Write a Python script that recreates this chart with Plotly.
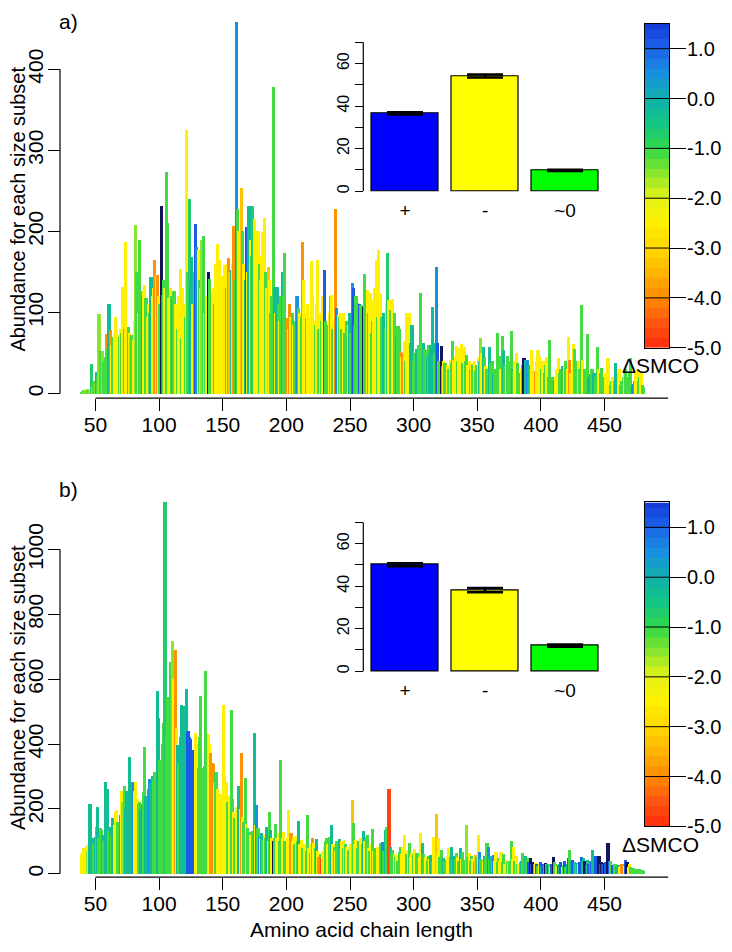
import plotly.graph_objects as go

# ---------------- data ----------------
# Delta-SMCO colour classes
Y, YG, LG, G, GT, T, B, D, N, O, OY, R = -2.5, -1.9, -1.5, -1.1, -0.7, -0.3, 0.5, 1.1, 1.9, -3.9, -3.3, -4.7

chain_length = list(range(39, 482))

abund_a = [
    2, 3, 4, 5, 3, 6, 4, 5, 37, 8,
    15, 12, 27, 20, 98, 53, 50, 53, 40, 45,
    74, 55, 110, 79, 60, 70, 75, 94, 78, 72,
    70, 80, 75, 132, 80, 187, 78, 82, 75, 70,
    72, 66, 90, 208, 150, 100, 189, 126, 120, 126,
    134, 118, 95, 110, 100, 144, 120, 130, 165, 146,
    146, 120, 110, 232, 122, 140, 130, 274, 211, 118,
    130, 120, 116, 126, 110, 95, 80, 120, 154, 69,
    130, 110, 95, 325, 150, 240, 135, 169, 110, 150,
    209, 181, 177, 140, 130, 190, 195, 100, 110, 120,
    150, 142, 120, 125, 130, 110, 160, 185, 150, 165,
    120, 145, 135, 159, 130, 160, 167, 150, 152, 160,
    207, 140, 458, 228, 200, 180, 254, 201, 160, 140,
    205, 150, 232, 190, 170, 232, 215, 170, 150, 200,
    160, 140, 170, 199, 217, 150, 130, 156, 140, 100,
    120, 378, 132, 100, 132, 110, 90, 120, 150, 120,
    173, 85, 93, 80, 110, 95, 100, 85, 90, 120,
    120, 105, 100, 95, 187, 140, 100, 93, 110, 80,
    95, 163, 120, 90, 85, 110, 165, 80, 100, 90,
    120, 152, 90, 85, 75, 100, 120, 122, 80, 90,
    228, 106, 97, 95, 99, 80, 100, 75, 70, 90,
    85, 100, 75, 136, 130, 85, 120, 112, 85, 110,
    109, 100, 107, 148, 120, 128, 100, 124, 75, 90,
    115, 130, 165, 95, 177, 124, 95, 90, 100, 80,
    110, 173, 115, 103, 85, 117, 100, 75, 70, 83,
    80, 51, 45, 50, 65, 40, 99, 70, 100, 63,
    85, 40, 50, 45, 55, 60, 50, 124, 42, 63,
    55, 54, 45, 60, 50, 60, 107, 63, 50, 156,
    63, 40, 35, 59, 34, 40, 38, 32, 35, 30,
    42, 38, 65, 42, 45, 59, 40, 56, 45, 61,
    38, 58, 40, 48, 35, 40, 30, 38, 35, 40,
    28, 35, 45, 40, 69, 50, 57, 45, 34, 30,
    28, 57, 38, 40, 26, 30, 28, 75, 35, 46,
    30, 71, 54, 35, 34, 46, 40, 30, 77, 30,
    28, 40, 50, 38, 20, 25, 30, 35, 44, 42,
    30, 42, 35, 30, 54, 40, 25, 28, 40, 54,
    45, 36, 30, 40, 25, 35, 45, 20, 66, 14,
    20, 14, 16, 20, 30, 44, 25, 30, 34, 28,
    35, 40, 30, 70, 42, 25, 30, 61, 55, 40,
    25, 40, 30, 109, 42, 25, 30, 20, 73, 20,
    24, 30, 30, 25, 20, 15, 57, 30, 25, 32,
    20, 15, 25, 20, 44, 12, 10, 15, 20, 16,
    38, 20, 25, 30, 10, 15, 20, 25, 30, 15,
    20, 25, 44, 10, 12, 15, 25, 30, 15, 20,
    25, 10, 8]

smco_a = [
    G, LG, G, LG, G, LG, G, LG, GT, LG,
    G, LG, T, G, LG, G, G, LG, G, G,
    O, G, T, O, Y, G, Y, Y, Y, Y,
    G, Y, G, Y, G, Y, Y, G, Y, LG,
    G, Y, Y, LG, G, Y, G, G, T, Y,
    Y, G, Y, Y, G, T, Y, Y, O, Y,
    O, Y, G, N, R, G, Y, G, G, Y,
    Y, G, T, G, Y, Y, G, Y, Y, G,
    Y, Y, G, Y, G, GT, T, T, Y, G,
    D, B, Y, G, Y, LG, G, Y, G, Y,
    N, G, G, Y, Y, G, Y, Y, Y, Y,
    Y, Y, Y, Y, G, Y, O, OY, T, Y,
    O, G, B, G, Y, Y, OY, G, Y, T,
    D, Y, T, Y, G, GT, Y, Y, Y, Y,
    G, Y, Y, Y, Y, G, Y, OY, Y, G,
    G, G, T, Y, T, G, Y, G, T, G,
    G, G, O, Y, O, Y, G, Y, G, T,
    B, G, Y, G, O, Y, Y, O, Y, Y,
    Y, Y, Y, Y, G, Y, Y, G, Y, G,
    Y, D, G, G, G, Y, O, Y, G, Y,
    O, B, Y, G, Y, G, Y, G, G, G,
    Y, T, G, B, D, T, G, G, G, D,
    G, G, N, G, G, Y, G, Y, G, G,
    Y, Y, Y, G, Y, Y, G, G, T, G,
    Y, GT, Y, G, G, Y, G, G, T, G,
    G, O, Y, O, Y, G, Y, Y, Y, T,
    T, G, G, G, T, G, G, G, G, T,
    G, G, T, G, T, T, T, T, G, B,
    D, G, G, N, G, Y, G, G, Y, G,
    Y, G, G, Y, Y, Y, G, Y, Y, Y,
    G, Y, G, G, Y, Y, G, Y, G, Y,
    G, G, Y, T, LG, Y, T, G, Y, G,
    G, T, G, G, T, G, G, G, G, G,
    Y, G, T, G, Y, G, G, G, G, T,
    G, Y, Y, G, G, G, Y, G, N, T,
    T, B, T, G, Y, Y, Y, O, Y, Y,
    Y, Y, G, Y, G, G, Y, G, G, G,
    G, G, T, Y, Y, Y, G, G, T, G,
    Y, G, Y, Y, O, Y, Y, Y, G, G,
    G, Y, G, G, Y, Y, G, G, G, T,
    T, G, G, T, G, G, G, Y, G, G,
    G, G, Y, Y, Y, Y, G, G, Y, O,
    T, T, Y, Y, G, G, G, Y, G, G,
    G, G, G, B, B, T, Y, Y, G, G,
    Y, G, G]

abund_b = [
    60, 70, 80, 75, 85, 70, 90, 215, 100, 109,
    90, 114, 144, 205, 110, 140, 134, 120, 100, 281,
    180, 261, 130, 144, 120, 170, 150, 190, 195, 160,
    122, 180, 256, 220, 271, 200, 256, 220, 360, 282,
    250, 282, 256, 282, 230, 215, 220, 200, 215, 250,
    390, 240, 230, 260, 292, 280, 302, 290, 312, 300,
    563, 480, 350, 322, 400, 464, 1145, 420, 546, 500,
    654, 560, 718, 600, 688, 450, 398, 340, 420, 520,
    480, 517, 450, 569, 439, 420, 414, 373, 380, 368,
    434, 400, 327, 420, 549, 327, 310, 333, 626, 380,
    429, 400, 373, 340, 338, 280, 312, 260, 241, 230,
    246, 200, 520, 300, 281, 220, 210, 240, 503, 230,
    190, 170, 205, 180, 271, 200, 371, 175, 160, 295,
    154, 140, 129, 120, 114, 130, 434, 150, 210, 140,
    114, 110, 124, 104, 120, 110, 144, 100, 190, 134,
    110, 99, 110, 154, 110, 124, 100, 351, 110, 129,
    100, 99, 110, 197, 100, 124, 100, 114, 90, 117,
    100, 163, 90, 104, 80, 53, 90, 70, 180, 80,
    63, 90, 111, 94, 80, 106, 70, 50, 60, 48,
    70, 83, 100, 109, 90, 114, 100, 149, 90, 83,
    70, 99, 85, 106, 80, 99, 80, 102, 90, 83,
    70, 73, 90, 228, 157, 90, 104, 80, 99, 85,
    109, 90, 132, 100, 114, 119, 80, 70, 90, 138,
    70, 80, 73, 83, 60, 93, 80, 96, 70, 134,
    144, 80, 261, 83, 60, 73, 60, 50, 58, 40,
    68, 83, 60, 83, 119, 70, 60, 73, 93, 50,
    63, 60, 75, 50, 63, 55, 50, 124, 93, 60,
    43, 50, 40, 53, 45, 58, 40, 114, 70, 185,
    60, 109, 50, 73, 45, 48, 40, 43, 50, 78,
    50, 83, 45, 53, 45, 63, 50, 40, 78, 45,
    68, 40, 43, 149, 50, 63, 40, 53, 45, 35,
    58, 50, 119, 68, 45, 43, 40, 53, 45, 95,
    81, 45, 53, 40, 58, 40, 68, 35, 48, 40,
    68, 35, 61, 30, 43, 35, 33, 40, 99, 45,
    83, 40, 53, 30, 28, 35, 40, 63, 35, 53,
    40, 48, 35, 48, 30, 37, 28, 33, 30, 23,
    28, 35, 23, 30, 25, 33, 28, 25, 30, 20,
    30, 51, 35, 28, 22, 25, 30, 35, 20, 25,
    38, 20, 30, 48, 73, 40, 43, 30, 35, 25,
    33, 28, 35, 50, 38, 48, 40, 25, 43, 30,
    40, 35, 73, 53, 55, 48, 40, 53, 30, 35,
    30, 31, 35, 30, 93, 38, 38, 20, 25, 28,
    30, 22, 25, 20, 24, 28, 30, 22, 43, 35,
    20, 28, 20, 15, 18, 12, 15, 14, 12, 13,
    12, 10, 8]

smco_b = [
    Y, Y, Y, Y, Y, LG, Y, T, T, T,
    G, T, G, T, G, G, G, T, G, T,
    T, T, G, T, G, T, Y, Y, Y, G,
    G, T, Y, LG, G, T, T, T, T, T,
    T, B, Y, Y, Y, G, G, T, T, G,
    G, T, T, T, B, T, T, G, G, G,
    T, T, G, G, G, G, GT, G, G, G,
    G, G, LG, Y, O, Y, T, G, T, T,
    T, T, T, T, D, D, D, D, D, D,
    Y, Y, G, G, G, G, G, G, G, G,
    Y, Y, O, O, O, Y, G, Y, Y, Y,
    Y, Y, Y, Y, Y, G, G, Y, G, G,
    Y, G, Y, Y, T, Y, O, Y, G, G,
    Y, G, G, Y, Y, G, T, Y, B, G,
    B, Y, T, G, Y, G, T, Y, G, T,
    Y, N, G, G, Y, Y, G, G, Y, Y,
    G, G, Y, Y, Y, O, Y, Y, G, Y,
    G, T, Y, Y, G, G, Y, G, G, Y,
    G, Y, O, Y, G, T, Y, O, G, R,
    Y, Y, G, G, Y, G, G, T, Y, G,
    Y, G, G, T, G, Y, G, Y, G, Y,
    G, G, Y, OY, G, Y, Y, G, G, G,
    Y, G, T, Y, G, G, Y, G, Y, G,
    Y, G, G, Y, Y, G, G, B, G, T,
    G, G, R, T, G, G, Y, G, Y, G,
    G, G, Y, Y, Y, Y, G, Y, G, Y,
    Y, G, Y, Y, G, G, Y, Y, T, G,
    G, Y, G, G, Y, T, G, Y, Y, OY,
    Y, Y, G, G, G, T, G, G, Y, Y,
    G, T, G, T, G, G, Y, G, T, Y,
    G, G, G, LG, G, Y, G, G, Y, G,
    OY, G, Y, B, G, G, Y, T, G, G,
    B, G, T, G, B, Y, Y, G, G, Y,
    Y, G, G, Y, Y, G, Y, G, G, Y,
    Y, G, Y, G, Y, G, T, G, G, T,
    G, G, D, N, D, N, G, Y, D, G,
    Y, D, T, D, T, N, T, D, G, Y,
    D, N, G, G, Y, D, T, D, Y, G,
    D, G, T, D, G, T, D, D, T, G,
    T, Y, D, D, T, T, N, D, T, D,
    T, D, T, T, D, D, D, N, D, N,
    D, N, D, D, N, D, G, G, D, G,
    G, T, T, Y, Y, O, O, Y, D, N,
    Y, Y, G, G, G, G, G, G, G, G,
    G, G, G]

assert len(abund_a) == len(smco_a) == len(chain_length)
assert len(abund_b) == len(smco_b) == len(chain_length)

inset_labels = ["+", "-", "~0"]
inset_pos = [0.7, 1.9, 3.1]
inset_a_pct = [36.6, 54.2, 9.8]
inset_a_err = [0.5, 0.7, 0.3]
inset_b_pct = [50.1, 38.2, 12.0]
inset_b_err = [0.7, 1.0, 0.5]
inset_colors = ["#0000ff", "#ffff00", "#00ff00"]

cbar_ticks = [-5, -4, -3, -2, -1, 0, 1]
cbar_ticktext = ["-5.0", "-4.0", "-3.0", "-2.0", "-1.0", "0.0", "1.0"]

# ---------------- colour scale (stepped, 0.2 wide bands) ----------------
ANCH = [(-5.0, "#ff2a0c"), (-4.5, "#ff5510"), (-4.0, "#ff8a00"), (-3.5, "#ffb400"),
        (-3.0, "#ffd800"), (-2.5, "#fff000"), (-2.0, "#e4f218"), (-1.5, "#88e62c"),
        (-1.0, "#30d848"), (-0.5, "#14c684"), (0.0, "#10b0ac"), (0.5, "#1890e0"),
        (1.0, "#1c64e8"), (1.5, "#1438d8")]
NAVY = "#14145a"


def hex2rgb(h):
    return tuple(int(h[i:i + 2], 16) for i in (1, 3, 5))


def col_at(v):
    for (a, ca), (b, cb) in zip(ANCH[:-1], ANCH[1:]):
        if a <= v <= b:
            t = (v - a) / (b - a)
            r1, r2 = hex2rgb(ca), hex2rgb(cb)
            return "rgb(%d,%d,%d)" % tuple(round(x + (y - x) * t) for x, y in zip(r1, r2))
    return ANCH[-1][1]


CMIN, CMAX = -5.0, 2.1
edges = [round(-5.0 + 0.2 * k, 1) for k in range(33)] + [1.5]
centers = [(lo + hi) / 2 for lo, hi in zip(edges[:-1], edges[1:])]
cscale = []
for lo, hi, c in zip(edges[:-1], edges[1:], centers):
    col = col_at(c)
    cscale += [[(lo - CMIN) / (CMAX - CMIN), col], [(hi - CMIN) / (CMAX - CMIN), col]]
cscale += [[(1.5 - CMIN) / (CMAX - CMIN), NAVY], [1.0, NAVY]]
cscale[0][0] = 0.0

# ---------------- layout helpers ----------------
# the page body adds an 8 px margin, so the figure is 8 px smaller and
# screen positions are converted to figure positions by removing that offset
OFF = 8
W, H = 732 - OFF, 952 - OFF


def fx(px):
    return (px - OFF) / W


def fy(py):
    return 1 - (py - OFF) / H


FONT = "Liberation Sans, Arial, Helvetica, sans-serif"
fig = go.Figure()

# main bars
fig.add_trace(go.Bar(x=chain_length, y=abund_a, width=2.5, xaxis="x", yaxis="y",
                     marker=dict(color=smco_a, colorscale=cscale, cmin=CMIN, cmax=CMAX, line=dict(width=0)),
                     showlegend=False, hoverinfo="x+y"))
fig.add_trace(go.Bar(x=chain_length, y=abund_b, width=2.5, xaxis="x4", yaxis="y4",
                     marker=dict(color=smco_b, colorscale=cscale, cmin=CMIN, cmax=CMAX, line=dict(width=0)),
                     showlegend=False, hoverinfo="x+y"))

# insets
for xa, ya, vals, errs in (("x2", "y2", inset_a_pct, inset_a_err), ("x5", "y5", inset_b_pct, inset_b_err)):
    fig.add_trace(go.Bar(x=inset_pos, y=vals, width=1.0, xaxis=xa, yaxis=ya,
                         marker=dict(color=inset_colors, line=dict(color="black", width=1.2)),
                         error_y=dict(type="data", array=errs, color="black", thickness=2.5, width=18),
                         showlegend=False))

# colour bars as heatmaps
for xa, ya in (("x3", "y3"), ("x6", "y6")):
    fig.add_trace(go.Heatmap(x=[0, 1], y=edges, z=[[c] for c in centers], colorscale=cscale,
                             zmin=CMIN, zmax=CMAX, showscale=False, xaxis=xa, yaxis=ya, hoverinfo="skip"))

tick_common = dict(ticks="outside", tickcolor="black", tickwidth=1, showgrid=False, zeroline=False,
                   showline=False, tickfont=dict(family=FONT, size=21, color="black"))

main_x = dict(domain=[fx(76.41), fx(674.49)], range=[35, 505], tickvals=[50, 100, 150, 200, 250, 300, 350, 400, 450],
              ticklen=12, ticklabelstandoff=-4, **tick_common)
ins_x = dict(domain=[fx(362.6), fx(607.5)], range=[0.064, 3.736], tickvals=inset_pos, ticktext=inset_labels,
             ticks="", showgrid=False, zeroline=False, showline=False,
             tickfont=dict(family=FONT, size=19, color="black"))
ins_y_common = dict(range=[-2.8, 72.8], anchor="free", position=fx(363.3),
                    tickvals=[0, 10, 20, 30, 40, 50, 60, 70], ticktext=["0", "", "20", "", "40", "", "60", ""],
                    tickangle=-90, ticks="outside", ticklen=8, tickcolor="black", showgrid=False, zeroline=False,
                    showline=False, tickfont=dict(family=FONT, size=16, color="black"))
cb_x = dict(range=[0, 1], showticklabels=False, ticks="", showgrid=False, zeroline=False,
            showline=True, mirror=True, linecolor="black", linewidth=1)
cb_y = dict(range=[-5, 1.5], side="right", tickvals=cbar_ticks, ticktext=cbar_ticktext, ticks="outside",
            ticklen=16, tickcolor="black", showgrid=False, zeroline=False, showline=True, mirror=True,
            linecolor="black", linewidth=1, ticklabelstandoff=-3,
            tickfont=dict(family=FONT, size=20, color="black"))

fig.update_layout(
    width=W, height=H, margin=dict(l=0, r=0, t=0, b=0),
    paper_bgcolor="white", plot_bgcolor="rgba(0,0,0,0)", bargap=0,
    font=dict(family=FONT, color="black"),
    xaxis=dict(anchor="y", **main_x),
    yaxis=dict(domain=[fy(402.7), fy(18)], range=[-5.7, 463.4], anchor="free", position=fx(60),
               tickvals=[0, 100, 200, 300, 400], tickangle=-90, ticklen=12, ticklabelstandoff=-3,
               **tick_common),
    xaxis2=dict(anchor="y2", **ins_x),
    yaxis2=dict(domain=[fy(199.3), fy(36.7)], **ins_y_common),
    xaxis3=dict(domain=[fx(645), fx(669)], anchor="y3", **cb_x),
    yaxis3=dict(domain=[fy(351.7), fy(24)], anchor="x3", **cb_y),
    xaxis4=dict(anchor="y4", **main_x),
    yaxis4=dict(domain=[fy(887.3), fy(500)], range=[-10, 1170.7], anchor="free", position=fx(60),
                tickvals=[0, 200, 400, 600, 800, 1000], tickangle=-90, ticklen=12, ticklabelstandoff=-3,
                **tick_common),
    xaxis5=dict(anchor="y5", **ins_x),
    yaxis5=dict(domain=[fy(685.0), fy(522.5)], **ins_y_common),
    xaxis6=dict(domain=[fx(645), fx(669)], anchor="y6", **cb_x),
    yaxis6=dict(domain=[fy(836), fy(508.3)], anchor="x6", **cb_y),
)

shapes = []
line = dict(color="black", width=1.2)
# main axis lines (R style: from first to last tick)
for xr, ypx in (("x", 402.7), ("x4", 887.3)):
    shapes.append(dict(type="line", xref=xr, yref="paper", x0=50, x1=500, y0=fy(ypx), y1=fy(ypx), line=line))
for yr, top in (("y", 400), ("y4", 1000)):
    shapes.append(dict(type="line", xref="paper", yref=yr, x0=fx(60), x1=fx(60), y0=0, y1=top, line=line))
for yr in ("y2", "y5"):
    shapes.append(dict(type="line", xref="paper", yref=yr, x0=fx(363.3), x1=fx(363.3), y0=0, y1=70, line=line))
# tick lines across the colour bars
for xr, yr in (("x3", "y3"), ("x6", "y6")):
    for v in cbar_ticks[1:]:
        shapes.append(dict(type="line", xref=xr, yref=yr, x0=0, x1=1, y0=v, y1=v,
                           line=dict(color="black", width=1)))
fig.update_layout(shapes=shapes)

ann = []
f21 = dict(family=FONT, size=21, color="black")
ann.append(dict(text="a)", x=fx(57), y=fy(22), xref="paper", yref="paper", xanchor="left", yanchor="middle",
                showarrow=False, font=f21))
ann.append(dict(text="b)", x=fx(57), y=fy(495), xref="paper", yref="paper", xanchor="left", yanchor="middle",
                showarrow=False, font=f21))
for ycen in (212, 696):
    ann.append(dict(text="Abundance for each size subset", x=fx(18), y=fy(ycen), xref="paper", yref="paper",
                    textangle=-90, xanchor="center", yanchor="middle", showarrow=False,
                    font=dict(family=FONT, size=20, color="black")))
ann.append(dict(text="Amino acid chain length", x=fx(361.5), y=fy(940), xref="paper", yref="paper",
                xanchor="center", yanchor="middle", showarrow=False, font=f21))
for ycen in (370, 854):
    ann.append(dict(text="ΔSMCO", x=fx(660), y=fy(ycen), xref="paper", yref="paper",
                    xanchor="center", yanchor="middle", showarrow=False, font=f21))
fig.update_layout(annotations=ann)

fig.write_html("out.html")
